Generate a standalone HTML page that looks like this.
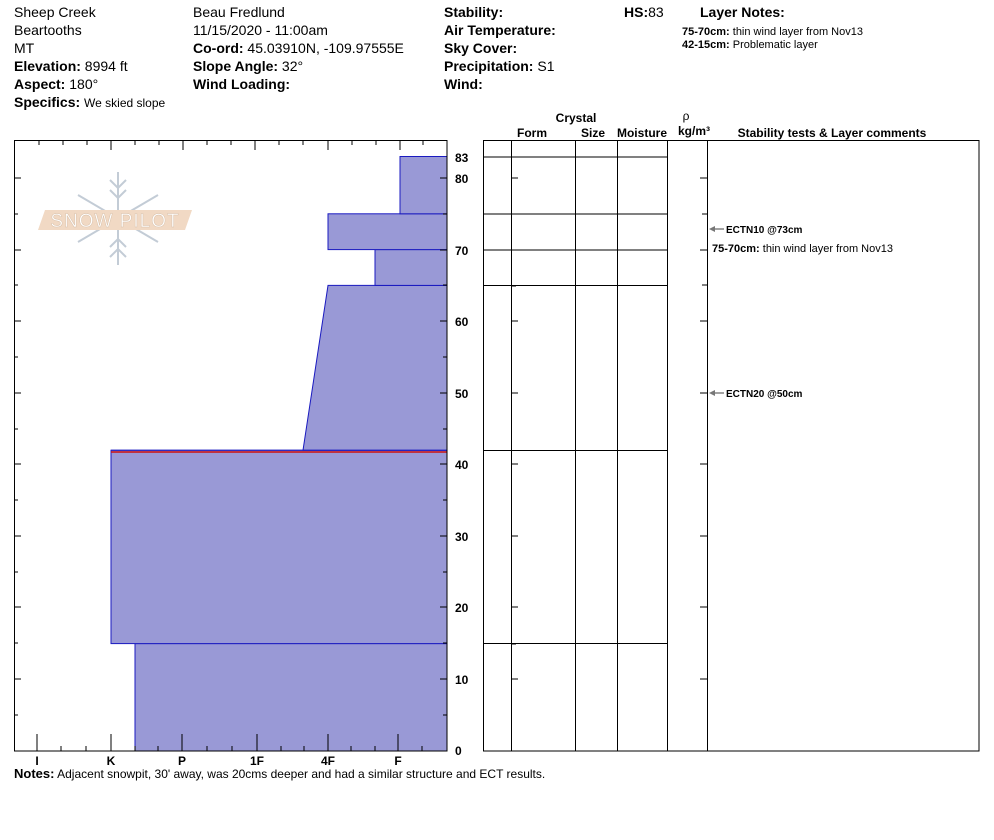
<!DOCTYPE html>
<html><head><meta charset="utf-8"><style>
body{margin:0;background:#fff;width:994px;height:840px;overflow:hidden}
svg{display:block;font-family:"Liberation Sans",Arial,sans-serif}
.b{font-weight:bold}
</style></head><body>
<svg width="994" height="840" viewBox="0 0 994 840" xmlns="http://www.w3.org/2000/svg">
<g font-size="14" fill="#000">
<text x="14" y="17">Sheep Creek</text>
<text x="14" y="35">Beartooths</text>
<text x="14" y="53">MT</text>
<text x="14" y="71"><tspan class="b">Elevation:</tspan> 8994 ft</text>
<text x="14" y="89"><tspan class="b">Aspect:</tspan> 180°</text>
<text x="14" y="107"><tspan class="b">Specifics:</tspan> <tspan font-size="12">We skied slope</tspan></text>
<text x="193" y="17">Beau  Fredlund</text>
<text x="193" y="35">11/15/2020 - 11:00am</text>
<text x="193" y="53"><tspan class="b">Co-ord:</tspan> 45.03910N, -109.97555E</text>
<text x="193" y="71"><tspan class="b">Slope Angle:</tspan> 32°</text>
<text x="193" y="89" class="b">Wind Loading:</text>
<text x="444" y="17" class="b">Stability:</text>
<text x="444" y="35" class="b">Air Temperature:</text>
<text x="444" y="53" class="b">Sky Cover:</text>
<text x="444" y="71"><tspan class="b">Precipitation:</tspan> S1</text>
<text x="444" y="89" class="b">Wind:</text>
<text x="624" y="17"><tspan class="b">HS:</tspan>83</text>
<text x="700" y="17" class="b">Layer Notes:</text>
</g>
<g font-size="11">
<text x="682" y="35"><tspan class="b">75-70cm:</tspan> thin wind layer from Nov13</text>
<text x="682" y="48"><tspan class="b">42-15cm:</tspan> Problematic layer</text>
</g>
<!-- logo -->
<g stroke="#c3ccd6" stroke-width="2" fill="none">
<line x1="118" y1="172" x2="118" y2="265"/>
<line x1="78" y1="195" x2="158" y2="242"/>
<line x1="158" y1="195" x2="78" y2="242"/>
<path d="M110 180 L118 188 L126 180 M110 190 L118 198 L126 190 M110 257 L118 249 L126 257 M110 247 L118 239 L126 247"/>
</g>
<polygon points="45,210 192,210 185,230 38,230" fill="#f1d9c4"/>
<text x="115" y="227" font-size="19" fill="#fff" text-anchor="middle" letter-spacing="1" stroke="#d8c0aa" stroke-width="0.5">SNOW PILOT</text>
<!-- layers -->
<g fill="#9999d6" stroke="#1a1ac0" stroke-width="1">
<rect x="135" y="643.6" width="312" height="107.4"/>
<rect x="111" y="450.2" width="336" height="193.4"/>
<polygon points="303,450.2 328,285.4 447,285.4 447,450.2"/>
<rect x="375" y="249.6" width="72" height="35.8"/>
<rect x="328" y="213.8" width="119" height="35.8"/>
<rect x="400" y="156.5" width="47" height="57.3"/>
</g>
<line x1="111" y1="452" x2="447" y2="452" stroke="#cc1111" stroke-width="1.5"/>
<line x1="111" y1="450.2" x2="447" y2="450.2" stroke="#1a1ac0" stroke-width="1"/>
<!-- left frame -->
<g stroke="#000" stroke-width="1" fill="none">
<rect x="14.5" y="140.5" width="432.5" height="610.5"/>
<path d="M39 141v4M63 141v4M87 141v4M135 141v4M159 141v4M207 141v4M231 141v4M279 141v4M303 141v4M352 141v4M376 141v4M423 141v4
M111 141v9M183 141v9M255 141v9M328 141v9M400 141v9"/>
<path d="M37 751v-17M111 751v-17M182 751v-17M257 751v-17M328 751v-17M398 751v-17
M61 751v-5M86 751v-5M135 751v-5M158 751v-5M207 751v-5M232 751v-5M281 751v-5M304 751v-5M351 751v-5M375 751v-5M422 751v-5"/>
<path d="M14 679h7M14 607h7M14 536h7M14 464h7M14 393h7M14 321h7M14 250h7M14 178h7
M14 715h4M14 643h4M14 572h4M14 500h4M14 429h4M14 357h4M14 285h4M14 214h4
M447 679h-7M447 607h-7M447 536h-7M447 464h-7M447 393h-7M447 321h-7M447 250h-7M447 178h-7
M447 715h-4M447 643h-4M447 572h-4M447 500h-4M447 429h-4M447 357h-4M447 285h-4M447 214h-4"/>
</g>
<g font-size="12" font-weight="bold">
<text x="455" y="755">0</text><text x="455" y="684">10</text><text x="455" y="612">20</text>
<text x="455" y="541">30</text><text x="455" y="469">40</text><text x="455" y="398">50</text>
<text x="455" y="326">60</text><text x="455" y="255">70</text><text x="455" y="183">80</text>
<text x="455" y="162">83</text>
<g text-anchor="middle"><text x="37" y="765">I</text><text x="111" y="765">K</text><text x="182" y="765">P</text>
<text x="257" y="765">1F</text><text x="328" y="765">4F</text><text x="398" y="765">F</text></g>
</g>
<text x="14" y="778" font-size="12"><tspan class="b" font-size="13">Notes:</tspan> Adjacent snowpit, 30' away, was 20cms deeper and had a similar structure and ECT results.</text>
<!-- right panel -->
<g font-size="12" font-weight="bold" text-anchor="middle">
<text x="576" y="122">Crystal</text><text x="532" y="137">Form</text><text x="593" y="137">Size</text>
<text x="642" y="137">Moisture</text><text x="686" y="120" font-weight="normal">ρ</text><text x="694" y="135">kg/m³</text>
<text x="832" y="137">Stability tests &amp; Layer comments</text>
</g>
<g stroke="#000" stroke-width="1" fill="none">
<rect x="483.5" y="140.5" width="495.5" height="610.5"/>
<path d="M511.5 141v610M575.5 141v610M617.5 141v610M667.5 141v610M707.5 141v610"/>
<path d="M483 157h184M483 214h184M483 250h184M483 285.5h184M483 450.5h184M483 643.5h184"/>
<path d="M511 679h7M511 607h7M511 536h7M511 464h7M511 393h7M511 321h7M511 250h7M511 178h7M511 286h5M511 644h5
M707 679h-7M707 607h-7M707 536h-7M707 464h-7M707 393h-7M707 321h-7M707 250h-7M707 178h-7M707 285h-5M707 214h-5"/>
<path d="M710 229h14M710 393h14" stroke="#444"/>
</g>
<g fill="#777"><polygon points="709,229 715,226 715,232"/><polygon points="709,393 715,390 715,396"/></g>
<g font-size="10" font-weight="bold"><text x="726" y="233">ECTN10 @73cm</text><text x="726" y="397">ECTN20 @50cm</text></g>
<text x="712" y="252" font-size="11"><tspan class="b">75-70cm:</tspan> thin wind layer from Nov13</text>
</svg>
</body></html>
